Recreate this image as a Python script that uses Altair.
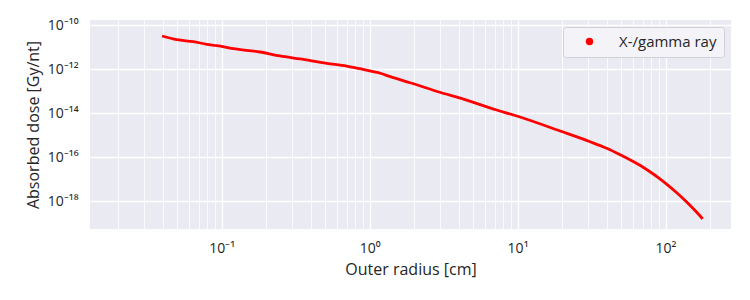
import altair as alt
import pandas as pd

# Data
radius_cm = [0.0396, 0.0498, 0.0644, 0.0794, 0.0929, 0.120, 0.182, 0.248, 0.339, 0.514,
             0.701, 0.863, 1.06, 1.18, 1.38, 1.88, 2.99, 4.31, 7.23, 9.89, 19.4,
             30.9, 40.0, 49.8, 60.0, 70.1, 79.4, 89.3, 100.7, 119.1, 139.0, 162.6, 178.2]
dose_gy_nt = [3.27e-11, 2.21e-11, 1.80e-11, 1.37e-11, 1.18e-11, 8.63e-12, 6.11e-12, 4.03e-12,
              2.94e-12, 1.87e-12, 1.41e-12, 1.06e-12, 7.78e-13, 6.61e-13, 4.61e-13, 2.45e-13,
              9.02e-14, 4.37e-14, 1.41e-14, 7.53e-15, 1.57e-15,
              5.12e-16, 2.57e-16, 1.27e-16, 6.61e-17, 3.63e-17, 2.09e-17, 1.19e-17, 6.38e-18,
              2.45e-18, 9.33e-19, 3.16e-19, 1.58e-19]
series_name = "X-/gamma ray"

x_major = [0.1, 1, 10, 100]
x_minor = [0.02, 0.03, 0.04, 0.05, 0.06, 0.07, 0.08, 0.09,
           0.2, 0.3, 0.4, 0.5, 0.6, 0.7, 0.8, 0.9,
           2, 3, 4, 5, 6, 7, 8, 9,
           20, 30, 40, 50, 60, 70, 80, 90, 200]
y_major = [1e-10, 1e-12, 1e-14, 1e-16, 1e-18]

x_labels = {-1: "10⁻¹", 0: "10⁰", 1: "10¹", 2: "10²"}
y_labels = {-10: "10⁻¹⁰", -12: "10⁻¹²", -14: "10⁻¹⁴", -16: "10⁻¹⁶", -18: "10⁻¹⁸"}

df = pd.DataFrame({"r": radius_cm, "d": dose_gy_nt, "s": [series_name] * len(radius_cm)})

EXP = "round(log(datum.value)/LN10)"
IS_MAJOR = f"abs(datum.value / pow(10, {EXP}) - 1) < 1e-6"


def label_expr(labels):
    expr = "''"
    for e, t in labels.items():
        expr = f"({EXP} == {e}) ? '{t}' : ({expr})"
    return f"({IS_MAJOR}) ? ({expr}) : ''"


FONT = "Open Sans"
TXT = "#262626"

chart = alt.Chart(df).mark_line(strokeWidth=2.8, color="red", interpolate="monotone").encode(
    x=alt.X("r:Q",
            scale=alt.Scale(type="log", domain=[0.0129, 277], nice=False, zero=False),
            axis=alt.Axis(values=sorted(x_major + x_minor), labelExpr=label_expr(x_labels),
                          title="Outer radius [cm]", grid=True, ticks=False, domain=False,
                          labelPadding=12, titlePadding=6,
                          gridWidth={"condition": {"test": IS_MAJOR, "value": 1.3}, "value": 0.8},
                          labelFlush=False, labelOverlap=False)),
    y=alt.Y("d:Q",
            scale=alt.Scale(type="log", domain=[5.5e-20, 1.74e-10], nice=False, zero=False),
            axis=alt.Axis(values=y_major, labelExpr=label_expr(y_labels),
                          title="Absorbed dose [Gy/nt]", grid=True, ticks=False, domain=False,
                          labelPadding=12, titlePadding=6, gridWidth=1.3,
                          labelFlush=False, labelOverlap=False)),
    color=alt.Color("s:N", scale=alt.Scale(domain=[series_name], range=["red"]),
                    legend=alt.Legend(title=None, orient="top-right", offset=7,
                                      symbolType="circle", symbolFillColor="red",
                                      symbolStrokeWidth=0, symbolSize=55,
                                      labelFontSize=15, labelFont=FONT, labelColor=TXT,
                                      labelOffset=22, symbolOffset=12,
                                      padding=7, fillColor="#F4F4F8", strokeColor="#D0D0D6",
                                      cornerRadius=3)),
).properties(
    width=641, height=209,
    autosize=alt.AutoSizeParams(type="none"),
    padding={"left": 90, "top": 20, "right": 19, "bottom": 71},
).configure_view(
    fill="#EAEAF2", stroke=None
).configure_axis(
    gridColor="white", labelFont=FONT, titleFont=FONT, labelColor=TXT, titleColor=TXT,
    labelFontSize=14, titleFontSize=16, titleFontWeight="normal"
)

chart.save("out.html", embed_options={"renderer": "svg", "actions": False})
